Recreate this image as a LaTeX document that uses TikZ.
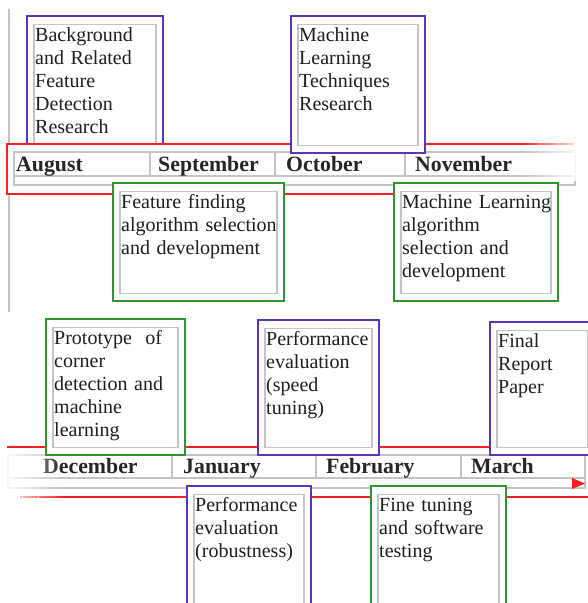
\documentclass[tikz,border=0pt]{standalone}
\usepackage{fontspec}
\setmainfont{Liberation Serif}
\usetikzlibrary{calc}

\definecolor{taskpurple}{RGB}{92,52,188}
\definecolor{taskgreen}{RGB}{46,150,46}
\definecolor{barred}{RGB}{250,30,30}
\definecolor{cellgray}{RGB}{196,196,196}
\definecolor{inkgray}{RGB}{30,30,30}

\tikzset{
	outerbox/.style={draw=#1, line width=1.7pt, fill=white, inner sep=0pt, outer sep=0pt, anchor=north west},
	innerbox/.style={draw=cellgray, line width=1.3pt, inner sep=0pt, outer sep=0pt, anchor=north west},
	tasktext/.style={font=\fontsize{20}{23.1}\selectfont, text=inkgray, text width=180pt, align=left, inner sep=0pt, anchor=base west},
	month/.style={font=\fontsize{21.8}{24}\selectfont\bfseries, text=black!85, inner sep=0pt, anchor=base west},
	cell/.style={draw=cellgray, line width=1.3pt},
	bar/.style={draw=barred, line width=1.4pt}
}

\begin{document}
\begin{tikzpicture}[x=1pt,y=-1pt]
		\useasboundingbox (0,0) rectangle (588,603);
		% upper half
		\draw[cell] (9,9) -- (9,312);
		\foreach \n/\c/\x/\y/\w/\h/\t in {bgr/taskpurple/27/16/136/150/{Background\\and Related\\Feature\\Detection\\Research}}{
			\node[outerbox=\c, minimum width=\w pt, minimum height=\h pt] (\n) at (\x,\y) {};
			\node[innerbox, minimum width={\w-14}, minimum height={\h-16}] (\n-in) at ($(\n.north west)+(7,8.5)$) {};
			\node[tasktext] (\n-txt) at ($(\n-in.north west)+(1,17)$) {\t};
		}
		\draw[bar, fill=white] (575,144) -- (7,144) -- (7,194) -- (558,194);
		\foreach \a/\b in {14/150,150/275,275/405,405/575}
			\draw[cell] (\a,152) rectangle (\b,176);
		\draw[cell] (14,176) rectangle (575,185);
		\foreach \n/\m/\x in {aug/August/16,sep/September/158,oct/October/286,nov/November/415}
			\node[month] (\n) at (\x,171.5) {\m};
		% fade out to the right
		\foreach \i in {0,...,19}
			\fill[white, opacity=\i/19] ($(520,136)+(\i*3.4,0)$) rectangle ++(3.5,45);
		\foreach \n/\c/\x/\y/\w/\h/\t in {
			mlr/taskpurple/291/16/134/137/{Machine\\Learning\\Techniques\\Research},
			ffa/taskgreen/113/183/171/118/{Feature finding\\algorithm selection\\and development},
			mla/taskgreen/394/183/164/118/{Machine Learning\\algorithm\\selection and\\development}}{
			\node[outerbox=\c, minimum width=\w pt, minimum height=\h pt] (\n) at (\x,\y) {};
			\node[innerbox, minimum width={\w-14}, minimum height={\h-16}] (\n-in) at ($(\n.north west)+(7,8.5)$) {};
			\node[tasktext] (\n-txt) at ($(\n-in.north west)+(1,17)$) {\t};
		}
		% lower half
		\draw[bar] (7,447) -- (588,447);
		\foreach \a/\b in {8/172,172/316,316/461,461/585}
			\draw[cell] (\a,455) rectangle (\b,478);
		\draw[cell] (8,478) rectangle (585,488);
		\draw[bar] (20,497) -- (588,497);
		\fill[barred] (572,478) -- (585,483.5) -- (572,489) -- cycle;
		\foreach \n/\m/\x in {dec/December/43,jan/January/183,feb/February/326,mar/March/471}
			\node[month] (\n) at (\x,473.3) {\m};
		% fade out to the left
		\foreach \i in {0,...,19}
			\fill[white, opacity=1-\i/19] ($(0,451)+(\i*3.2,0)$) rectangle ++(3.3,51);
		\foreach \n/\c/\x/\y/\w/\h/\t in {
			pcd/taskgreen/46/319/139/136/{Prototype\ \ of\\corner\\detection and\\machine\\learning},
			pes/taskpurple/258/320/121/135/{Performance\\evaluation\\(speed\\tuning)},
			frp/taskpurple/490/322/105/133/{Final\\Report\\Paper},
			per/taskpurple/187/486/124/125/{Performance\\evaluation\\(robustness)},
			fts/taskgreen/371/486/135/125/{Fine tuning\\and software\\testing}}{
			\node[outerbox=\c, minimum width=\w pt, minimum height=\h pt] (\n) at (\x,\y) {};
			\node[innerbox, minimum width={\w-14}, minimum height={\h-16}] (\n-in) at ($(\n.north west)+(7,8.5)$) {};
			\node[tasktext] (\n-txt) at ($(\n-in.north west)+(1,17)$) {\t};
		}
\end{tikzpicture}
\end{document}
